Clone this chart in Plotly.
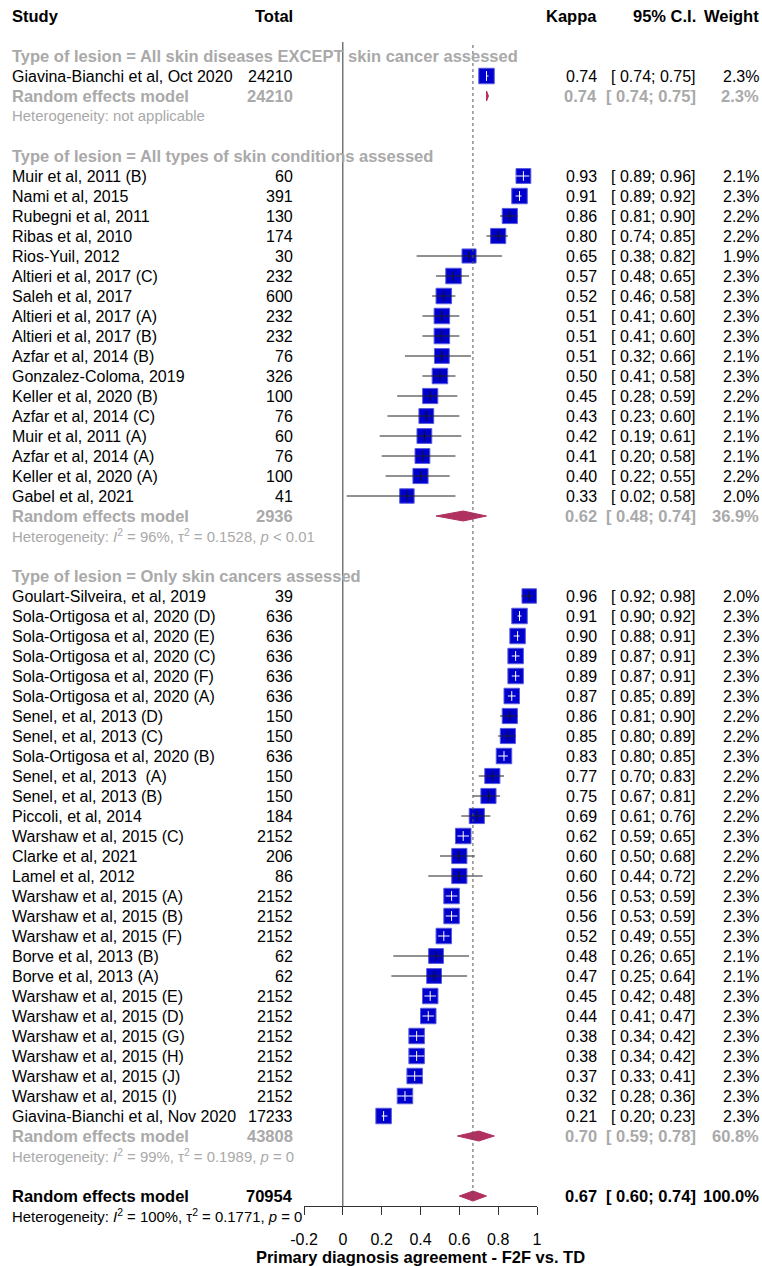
import plotly.graph_objects as go

# ---------------- data ----------------
group_titles = [
    "Type of lesion = All skin diseases EXCEPT skin cancer assessed",
    "Type of lesion = All types of skin conditions assessed",
    "Type of lesion = Only skin cancers assessed",
]

g1_study = ["Giavina-Bianchi et al, Oct 2020"]
g1_total = [24210]
g1_kappa = [0.74]
g1_lower = [0.74]
g1_upper = [0.75]
g1_weight = [2.3]

g2_study = [
    "Muir et al, 2011 (B)", "Nami et al, 2015", "Rubegni et al, 2011", "Ribas et al, 2010",
    "Rios-Yuil, 2012", "Altieri et al, 2017 (C)", "Saleh et al, 2017", "Altieri et al, 2017 (A)",
    "Altieri et al, 2017 (B)", "Azfar et al, 2014 (B)", "Gonzalez-Coloma, 2019",
    "Keller et al, 2020 (B)", "Azfar et al, 2014 (C)", "Muir et al, 2011 (A)",
    "Azfar et al, 2014 (A)", "Keller et al, 2020 (A)", "Gabel et al, 2021",
]
g2_total = [60, 391, 130, 174, 30, 232, 600, 232, 232, 76, 326, 100, 76, 60, 76, 100, 41]
g2_kappa = [0.93, 0.91, 0.86, 0.80, 0.65, 0.57, 0.52, 0.51, 0.51, 0.51, 0.50, 0.45, 0.43, 0.42, 0.41, 0.40, 0.33]
g2_lower = [0.89, 0.89, 0.81, 0.74, 0.38, 0.48, 0.46, 0.41, 0.41, 0.32, 0.41, 0.28, 0.23, 0.19, 0.20, 0.22, 0.02]
g2_upper = [0.96, 0.92, 0.90, 0.85, 0.82, 0.65, 0.58, 0.60, 0.60, 0.66, 0.58, 0.59, 0.60, 0.61, 0.58, 0.55, 0.58]
g2_weight = [2.1, 2.3, 2.2, 2.2, 1.9, 2.3, 2.3, 2.3, 2.3, 2.1, 2.3, 2.2, 2.1, 2.1, 2.1, 2.2, 2.0]

g3_study = [
    "Goulart-Silveira, et al, 2019", "Sola-Ortigosa et al, 2020 (D)", "Sola-Ortigosa et al, 2020 (E)",
    "Sola-Ortigosa et al, 2020 (C)", "Sola-Ortigosa et al, 2020 (F)", "Sola-Ortigosa et al, 2020 (A)",
    "Senel, et al, 2013 (D)", "Senel, et al, 2013 (C)", "Sola-Ortigosa et al, 2020 (B)",
    "Senel, et al, 2013 \u00a0(A)", "Senel, et al, 2013 (B)", "Piccoli, et al, 2014",
    "Warshaw et al, 2015 (C)", "Clarke et al, 2021", "Lamel et al, 2012",
    "Warshaw et al, 2015 (A)", "Warshaw et al, 2015 (B)", "Warshaw et al, 2015 (F)",
    "Borve et al, 2013 (B)", "Borve et al, 2013 (A)", "Warshaw et al, 2015 (E)",
    "Warshaw et al, 2015 (D)", "Warshaw et al, 2015 (G)", "Warshaw et al, 2015 (H)",
    "Warshaw et al, 2015 (J)", "Warshaw et al, 2015 (I)", "Giavina-Bianchi et al, Nov 2020",
]
g3_total = [39, 636, 636, 636, 636, 636, 150, 150, 636, 150, 150, 184, 2152, 206, 86,
            2152, 2152, 2152, 62, 62, 2152, 2152, 2152, 2152, 2152, 2152, 17233]
g3_kappa = [0.96, 0.91, 0.90, 0.89, 0.89, 0.87, 0.86, 0.85, 0.83, 0.77, 0.75, 0.69, 0.62, 0.60, 0.60,
            0.56, 0.56, 0.52, 0.48, 0.47, 0.45, 0.44, 0.38, 0.38, 0.37, 0.32, 0.21]
g3_lower = [0.92, 0.90, 0.88, 0.87, 0.87, 0.85, 0.81, 0.80, 0.80, 0.70, 0.67, 0.61, 0.59, 0.50, 0.44,
            0.53, 0.53, 0.49, 0.26, 0.25, 0.42, 0.41, 0.34, 0.34, 0.33, 0.28, 0.20]
g3_upper = [0.98, 0.92, 0.91, 0.91, 0.91, 0.89, 0.90, 0.89, 0.85, 0.83, 0.81, 0.76, 0.65, 0.68, 0.72,
            0.59, 0.59, 0.55, 0.65, 0.64, 0.48, 0.47, 0.42, 0.42, 0.41, 0.36, 0.23]
g3_weight = [2.0, 2.3, 2.3, 2.3, 2.3, 2.3, 2.2, 2.2, 2.3, 2.2, 2.2, 2.2, 2.3, 2.2, 2.2,
             2.3, 2.3, 2.3, 2.1, 2.1, 2.3, 2.3, 2.3, 2.3, 2.3, 2.3, 2.3]

# random effects summaries per subgroup
sub_total = [24210, 2936, 43808]
sub_kappa = [0.74, 0.62, 0.70]
sub_lower = [0.74, 0.48, 0.59]
sub_upper = [0.75, 0.74, 0.78]
sub_weight = [2.3, 36.9, 60.8]
sub_het = [
    "Heterogeneity: not applicable",
    "Heterogeneity: <i>I</i><sup>2</sup> = 96%, \u03c4<sup>2</sup> = 0.1528, <i>p</i> &lt; 0.01",
    "Heterogeneity: <i>I</i><sup>2</sup> = 99%, \u03c4<sup>2</sup> = 0.1989, <i>p</i> = 0",
]

overall_total = 70954
overall_kappa = 0.67
overall_lower = 0.60
overall_upper = 0.74
overall_weight = 100.0
overall_het = "Heterogeneity: <i>I</i><sup>2</sup> = 100%, \u03c4<sup>2</sup> = 0.1771, <i>p</i> = 0"

x_ticks = [-0.2, 0, 0.2, 0.4, 0.6, 0.8, 1]
x_ticktext = ["-0.2", "0", "0.2", "0.4", "0.6", "0.8", "1"]
x_title = "Primary diagnosis agreement - F2F vs. TD"

# ---------------- layout constants ----------------
W, H = 762, 1266
FONT = "Liberation Sans, Arial, sans-serif"
GRAY = "#A9A9A9"
SQUARE = "#0000CD"
SQUARE_EDGE = "#5A5AE0"
DIAMOND = "#B03060"
PX_PER_UNIT = (537 - 304) / 1.2   # horizontal scale of the effect axis
BOLD_SIZE = 16.5
HET_SIZE = 14.9

groups = [
    (g1_study, g1_total, g1_kappa, g1_lower, g1_upper, g1_weight),
    (g2_study, g2_total, g2_kappa, g2_lower, g2_upper, g2_weight),
    (g3_study, g3_total, g3_kappa, g3_lower, g3_upper, g3_weight),
]

annotations = []


def px(x):
    return x / W


def text(xp, row, s, anchor="left", bold=False, color="black", size=None):
    if size is None:
        size = BOLD_SIZE if bold else 16
    annotations.append(dict(
        x=px(xp), y=row, xref="paper", yref="y", text=(f"<b>{s}</b>" if bold else s),
        showarrow=False, xanchor=anchor, yanchor="middle", align=anchor,
        font=dict(family=FONT, size=size, color=color), borderpad=0,
    ))


def ci_str(lo, hi):
    return f"[ {lo:.2f}; {hi:.2f}]"


def row_text(row, study, total, k, lo, hi, w, bold=False, color="black"):
    text(11, row, study, "left", bold, color)
    text(294, row, f"{total}", "right", bold, color)
    text(598, row, f"{k:.2f}", "right", bold, color)
    text(697, row, ci_str(lo, hi), "right", bold, color)
    text(760, row, f"{w:.1f}%", "right", bold, color)


# header
text(11, 0, "Study", "left", True)
text(294, 0, "Total", "right", True)
text(598, 0, "Kappa", "right", True)
text(697, 0, "95% C.I.", "right", True)
text(760, 0, "Weight", "right", True)

sq_x, sq_y, sq_size = [], [], []
dark_x, dark_y, light_x, light_y = [], [], [], []
dark_tx, dark_ty, light_tx, light_ty = [], [], [], []
diamonds = []

row = 2
for gi, (st, tot, kap, lo, hi, wt) in enumerate(groups):
    text(11, row, group_titles[gi], "left", True, GRAY)
    row += 1
    for s, t, k, l, u, w in zip(st, tot, kap, lo, hi, wt):
        row_text(row, s, t, k, l, u, w)
        size = 15.5 * (w / 2.3) ** 0.5
        sq_x.append(k)
        sq_y.append(row)
        sq_size.append(size)
        half = (size + 1) / 2
        inside = (k - l) * PX_PER_UNIT <= half and (u - k) * PX_PER_UNIT <= half
        if inside:
            light_x += [l, u, None]
            light_y += [row, row, None]
            light_tx.append(k)
            light_ty.append(row)
        else:
            dark_x += [l, u, None]
            dark_y += [row, row, None]
            dark_tx.append(k)
            dark_ty.append(row)
        row += 1
    row_text(row, "Random effects model", sub_total[gi], sub_kappa[gi], sub_lower[gi],
             sub_upper[gi], sub_weight[gi], bold=True, color=GRAY)
    diamonds.append((sub_kappa[gi], sub_lower[gi], sub_upper[gi], row))
    row += 1
    text(11, row, sub_het[gi], "left", False, GRAY, HET_SIZE)
    row += 2

row_text(row, "Random effects model", overall_total, overall_kappa, overall_lower,
         overall_upper, overall_weight, bold=True)
diamonds.append((overall_kappa, overall_lower, overall_upper, row))
overall_row = row
text(11, row + 1, overall_het, "left", False, "black", HET_SIZE)

fig = go.Figure()

# study squares
fig.add_trace(go.Scatter(
    x=sq_x, y=sq_y, mode="markers",
    marker=dict(symbol="square", size=sq_size, color=SQUARE, opacity=1,
                line=dict(color=SQUARE_EDGE, width=1)),
    hoverinfo="skip",
))
# confidence intervals reaching beyond the square
fig.add_trace(go.Scatter(x=dark_x, y=dark_y, mode="lines",
                         line=dict(color="#222222", width=1), hoverinfo="skip"))
fig.add_trace(go.Scatter(x=dark_tx, y=dark_ty, mode="markers",
                         marker=dict(symbol="line-ns", size=7, opacity=1,
                                     line=dict(color="#111111", width=1)),
                         hoverinfo="skip"))
# confidence intervals lying inside the square
fig.add_trace(go.Scatter(x=light_x, y=light_y, mode="lines",
                         line=dict(color="white", width=1), hoverinfo="skip"))
fig.add_trace(go.Scatter(x=light_tx, y=light_ty, mode="markers",
                         marker=dict(symbol="line-ns", size=7, opacity=1,
                                     line=dict(color="white", width=1)),
                         hoverinfo="skip"))

# pooled-estimate diamonds
for k, l, u, r in diamonds:
    fig.add_trace(go.Scatter(
        x=[l, k, u, k, l], y=[r, r - 0.25, r, r + 0.25, r],
        mode="lines", fill="toself", fillcolor=DIAMOND,
        line=dict(color=DIAMOND, width=1), hoverinfo="skip",
    ))

# reference line at zero and dotted line at the overall estimate
fig.add_shape(type="line", x0=0, x1=0, y0=1.3, y1=overall_row + 0.5,
              xref="x", yref="y", line=dict(color="#333333", width=1))
fig.add_shape(type="line", x0=overall_kappa, x1=overall_kappa, y0=1.45, y1=overall_row + 0.15,
              xref="x", yref="y", line=dict(color="#555555", width=1, dash="dot"))

fig.update_layout(
    width=W, height=H,
    margin=dict(l=0, r=0, t=0, b=0, pad=0, autoexpand=False),
    paper_bgcolor="white", plot_bgcolor="white",
    showlegend=False,
    annotations=annotations,
    font=dict(family=FONT, size=16, color="black"),
    xaxis=dict(
        domain=[304 / W, 537 / W], range=[-0.2, 1],
        anchor="free", position=1 - 1206 / H, automargin=False,
        showgrid=False, zeroline=False, showline=True, linecolor="#333333", linewidth=1,
        ticks="outside", ticklen=8, tickwidth=1, tickcolor="#333333",
        tickvals=x_ticks, ticktext=x_ticktext, ticklabelstandoff=11,
        tickfont=dict(family=FONT, size=16, color="black"),
        title=dict(text=f"<b>{x_title}</b>",
                   font=dict(family=FONT, size=BOLD_SIZE, color="black"),
                   standoff=2),
    ),
    yaxis=dict(domain=[0, 1], range=[62.5, -0.8], visible=False, automargin=False),
)

fig.write_html("out.html")
